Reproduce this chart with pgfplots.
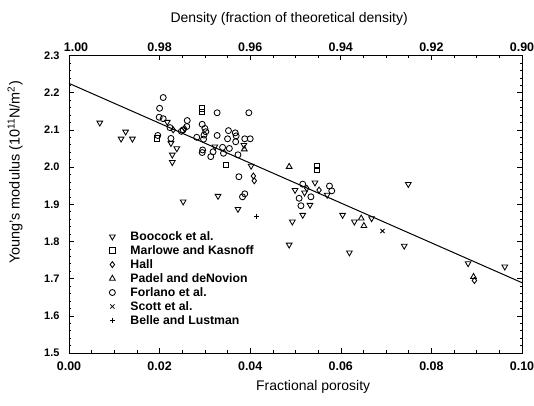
\documentclass[border=0pt]{standalone}
\usepackage{pgfplots}
\pgfplotsset{compat=1.18}
\usepackage{fontspec}
\setmainfont{Liberation Sans}
\begin{document}
\begin{tikzpicture}
\begin{axis}[name=main,
  scale only axis, width=453bp, height=297.5bp,
  xmin=0, xmax=0.1, ymin=1.5, ymax=2.3,
  xtick={0,0.02,0.04,0.06,0.08,0.1},
  ytick={1.5,1.6,1.7,1.8,1.9,2.0,2.1,2.2,2.3},
  minor x tick num=3, minor y tick num=4,
  xtick pos=left, ytick pos=both,
  tick align=inside,
  major tick length=5bp, minor tick length=2.5bp,
  scaled ticks=false,
  axis line style={line width=0.8bp},
  tick style={line width=0.6bp, black},
  /pgf/number format/assume math mode=true,
  xticklabel style={/pgf/number format/.cd, fixed, fixed zerofill, precision=2, /tikz/.cd, font=\fontsize{12.5}{14}\selectfont\bfseries, yshift=-5bp},
  yticklabel style={/pgf/number format/.cd, fixed, fixed zerofill, precision=1, /tikz/.cd, font=\fontsize{11}{13}\selectfont\bfseries, xshift=-6bp},
  xlabel={Fractional porosity},
  ylabel={Young's modulus (10\textsuperscript{11}N/m\textsuperscript{2})},
  xlabel style={at={(axis description cs:0.539,0)}, anchor=center, yshift=-34bp, font=\fontsize{14}{16}\selectfont},
  ylabel style={at={(axis description cs:-0.119,0.607)}, anchor=center, rotate=0, font=\fontsize{14.5}{16}\selectfont},
  legend style={at={(axis description cs:0.069,0.42)}, anchor=north west, draw=none, fill=none,
    font=\fontsize{12.3}{14}\selectfont\bfseries, row sep=1.2bp, nodes={inner sep=1.2bp}},
  legend image code/.code={\path (0bp,0bp) (25bp,0bp); \draw[#1] plot coordinates {(8.5bp,0bp)};},
  legend cell align=left,
  every axis plot/.append style={only marks, black, line width=0.85bp, mark options={solid}},
]
% regression line
\addplot[no marks, sharp plot, line width=1bp, forget plot] coordinates {(0,2.225) (0.1,1.689)};

% Boocock et al.
\addplot[mark=triangle, mark size=3.3bp, mark options={rotate=180}] coordinates {
(0.0068,2.119) (0.0125,2.095) (0.0115,2.076) (0.0140,2.076) (0.0217,2.121)
(0.0225,2.064) (0.0238,2.050) (0.0228,2.033) (0.0228,2.013) (0.0252,1.907)
(0.0322,2.055) (0.0329,1.922) (0.0373,1.887) (0.0402,2.003) (0.0499,1.938)
(0.0493,1.853) (0.0486,1.791) (0.0543,1.958) (0.0520,1.931) (0.0532,1.898)
(0.0516,1.871) (0.0570,1.925) (0.0604,1.871) (0.0630,1.853) (0.0619,1.770)
(0.0740,1.788) (0.0749,1.954) (0.0881,1.741) (0.0962,1.732) (0.0668,1.862)
(0.0386,2.059)
};
\addlegendentry{Boocock et al.}
% Marlowe and Kasnoff
\addplot[mark=square, mark size=2.7bp] coordinates {
(0.0346,2.005) (0.0294,2.158) (0.0294,2.149) (0.0547,2.003) (0.0547,1.992) (0.0194,2.077)
};
\addlegendentry{Marlowe and Kasnoff}
% Hall
\addplot[mark=diamond, mark size=3bp] coordinates {
(0.0230,2.100) (0.0407,1.976) (0.0409,1.963) (0.0525,1.943) (0.0552,1.938) (0.0895,1.695)
(0.0255,2.104)
};
\addlegendentry{Hall}
% Padel and deNovion
\addplot[mark=triangle, mark size=3.3bp] coordinates {
(0.0486,2.001) (0.0651,1.842) (0.0893,1.705) (0.0645,1.862) (0.0387,2.048)
};
\addlegendentry{Padel and deNovion}
% Forlano et al.
\addplot[mark=o, mark size=3bp] coordinates {
(0.0196,2.085) (0.0208,2.187) (0.0200,2.158) (0.0199,2.134) (0.0208,2.130)
(0.0223,2.106) (0.0225,2.077) (0.0261,2.125) (0.0260,2.109) (0.0282,2.080)
(0.0294,2.115) (0.0300,2.104) (0.0302,2.095) (0.0298,2.086) (0.0297,2.075)
(0.0295,2.046) (0.0294,2.039) (0.0313,2.028) (0.0318,2.041) (0.0327,2.146)
(0.0327,2.085) (0.0339,2.053) (0.0341,2.037) (0.0352,2.098) (0.0350,2.076)
(0.0354,2.050) (0.0367,2.092) (0.0369,2.084) (0.0368,2.068) (0.0373,2.033)
(0.0375,1.974) (0.0383,1.920) (0.0388,1.928) (0.0388,2.076) (0.0400,2.076)
(0.0397,2.146) (0.0516,1.954) (0.0508,1.916) (0.0534,1.920) (0.0512,1.896)
(0.0575,1.949) (0.0580,1.936) (0.0252,2.100) (0.0248,2.096)
};
\addlegendentry{Forlano et al.}
% Scott et al.
\addplot[mark=x, mark size=3bp] coordinates {(0.0692,1.828)};
\addlegendentry{Scott et al.}
% Belle and Lustman
\addplot[mark=+, mark size=2.6bp] coordinates {(0.0414,1.867)};
\addlegendentry{Belle and Lustman}
\end{axis}

\begin{axis}[
  scale only axis, width=453bp, height=297.5bp,
  xmin=0.9, xmax=1.0, x dir=reverse, ymin=0, ymax=1,
  axis x line*=top, axis y line=none,
  xtick={0.9,0.92,0.94,0.96,0.98},
  extra x ticks={1.0},
  extra x tick style={xticklabel style={xshift=7bp}},
  minor x tick num=3,
  tick align=inside,
  major tick length=5bp, minor tick length=2.5bp,
  scaled ticks=false,
  axis line style={line width=0.8bp},
  tick style={line width=0.6bp, black},
  /pgf/number format/assume math mode=true,
  xticklabel style={/pgf/number format/.cd, fixed, fixed zerofill, precision=2, /tikz/.cd, font=\fontsize{12.5}{14}\selectfont\bfseries},
  xlabel={Density (fraction of theoretical density)},
  xlabel style={at={(axis description cs:0.486,1)}, anchor=center, yshift=37bp, font=\fontsize{14}{16}\selectfont},
]
\addplot[draw=none, forget plot] coordinates {(0.95,0.5)};
\end{axis}
\pgfresetboundingbox
\path[use as bounding box] ([shift={(-69bp,-53bp)}]main.south west) rectangle ([shift={(12bp,55.5bp)}]main.north east);
\end{tikzpicture}
\end{document}
